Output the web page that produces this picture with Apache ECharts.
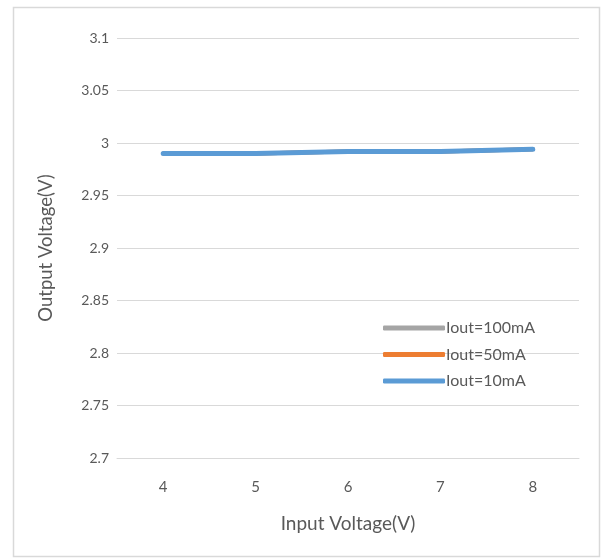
<!DOCTYPE html>
<html>
<head>
<meta charset="utf-8">
<script src="https://cdn.jsdelivr.net/npm/echarts@6/dist/echarts.min.js"></script>
<style>
html,body{margin:0;padding:0;background:#fff;}
#c{width:604px;height:559px;}
</style>
</head>
<body>
<div id="c"></div>
<script>
const categories = ['4', '5', '6', '7', '8'];
const seriesNames = ['Iout=100mA', 'Iout=50mA', 'Iout=10mA'];
const iout100 = [2.990, 2.990, 2.992, 2.992, 2.994];
const iout50 = [2.990, 2.990, 2.992, 2.992, 2.994];
const iout10 = [2.990, 2.990, 2.992, 2.992, 2.994];
const colors = ['#A5A5A5', '#ED7D31', '#5B9BD5'];

const chart = echarts.init(document.getElementById('c'), null, {renderer: 'canvas'});
const font = 'Lato, "Open Sans", sans-serif';
const dataList = [iout100, iout50, iout10];
chart.setOption({
  animation: false,
  backgroundColor: '#fff',
  graphic: [{
    type: 'rect', left: 11, top: 5, shape: {width: 586, height: 549},
    style: {fill: 'none', stroke: '#d9d9d9', lineWidth: 1.5}, silent: true
  }],
  grid: {left: 117, right: 25, top: 38, bottom: 101, containLabel: false},
  legend: {
    orient: 'vertical',
    left: 378, top: 315,
    itemWidth: 62, itemHeight: 5, itemGap: 10.5,
    icon: 'roundRect',
    textStyle: {fontFamily: font, fontSize: 16, color: '#595959', padding: [0,0,0,-4]},
    data: seriesNames
  },
  xAxis: {
    type: 'category',
    data: categories,
    boundaryGap: true,
    axisLine: {show: true, lineStyle: {color: '#d9d9d9', width: 1}},
    axisTick: {show: false},
    axisLabel: {fontFamily: font, fontSize: 15, color: '#595959', margin: 22},
    name: 'Input Voltage(V)',
    nameLocation: 'middle',
    nameGap: 56,
    nameTextStyle: {fontFamily: font, fontSize: 19, color: '#595959'}
  },
  yAxis: {
    type: 'value',
    min: 2.7, max: 3.1, interval: 0.05,
    axisLine: {show: false},
    axisTick: {show: false},
    splitLine: {lineStyle: {color: '#d9d9d9', width: 1}},
    axisLabel: {fontFamily: font, fontSize: 14, color: '#595959', margin: 8,
      formatter: v => String(parseFloat(v.toFixed(2)))},
    name: 'Output Voltage(V)',
    nameLocation: 'middle',
    nameGap: 61,
    nameRotate: 90,
    nameTextStyle: {fontFamily: font, fontSize: 18.5, color: '#595959'}
  },
  series: seriesNames.map((n, i) => ({
    name: n, type: 'line', data: dataList[i],
    showSymbol: false, symbol: 'none',
    color: colors[i],
    lineStyle: {width: i === 2 ? 5 : 4, color: colors[i], cap: 'round'},
    z: 2 + i
  }))
});
</script>
</body>
</html>
